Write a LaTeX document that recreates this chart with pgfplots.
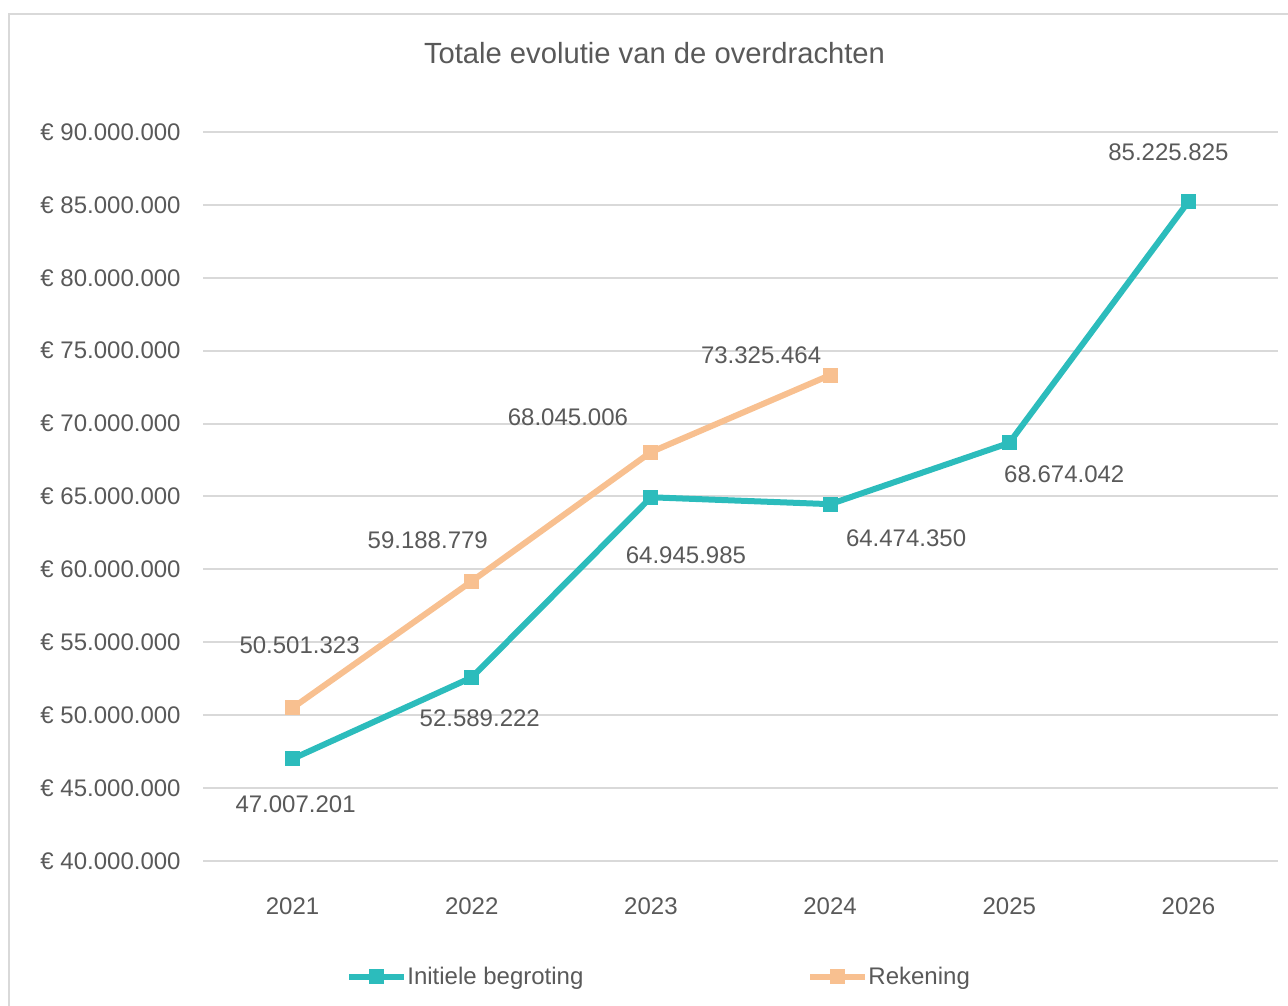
\documentclass[border=0pt]{standalone}
\usepackage{fontspec}
\setmainfont{Liberation Sans}
\usepackage{pgfplots}
\usepackage{pgfplotstable}
\pgfplotsset{compat=1.18}
\definecolor{tealc}{HTML}{2CBCBC}
\definecolor{peach}{HTML}{F8C090}
\definecolor{txt}{HTML}{595959}
\definecolor{gridc}{HTML}{D9D9D9}
\tikzset{lbl/.style={anchor=center, inner sep=0pt, text=txt, font=\fontsize{12}{14}\selectfont}}

\pgfplotstableread{
x y
0 47007201
1 52589222
2 64945985
3 64474350
4 68674042
5 85225825
}\initiele

\pgfplotstableread{
x y
0 50501323
1 59188779
2 68045006
3 73325464
}\rekening

\begin{document}
\begin{tikzpicture}
\useasboundingbox (0,0) rectangle (644pt,502.5pt);
\draw[gridc, line width=1pt] (4.5pt,-5pt) -- (4.5pt,495.5pt) -- (660pt,495.5pt);
\node[text=txt, font=\fontsize{14.6}{17}\selectfont] at (327.25pt,476pt) {Totale evolutie van de overdrachten};
\begin{axis}[
  scale only axis,
  width=537.5pt, height=364.5pt,
  anchor=south west, at={(101.5pt,72pt)},
  xmin=-0.5, xmax=5.5,
  ymin=40000000, ymax=90000000,
  scaled y ticks=false,
  xtick={0,1,2,3,4,5},
  xticklabels={2021,2022,2023,2024,2025,2026},
  ytick={40000000,45000000,50000000,55000000,60000000,65000000,70000000,75000000,80000000,85000000,90000000},
  yticklabels={€ 40.000.000,€ 45.000.000,€ 50.000.000,€ 55.000.000,€ 60.000.000,€ 65.000.000,€ 70.000.000,€ 75.000.000,€ 80.000.000,€ 85.000.000,€ 90.000.000},
  ymajorgrids,
  grid style={gridc, line width=1pt},
  axis line style={draw=none},
  major tick length=0pt,
  tick label style={text=txt, font=\fontsize{12}{14}\selectfont},
  yticklabel style={inner sep=0pt, xshift=-11pt},
  xticklabel style={inner sep=0pt, yshift=-18pt},
  clip=false,
  legend columns=2,
  legend style={draw=none, fill=none, at={(0.1274,-0.159)}, anchor=west,
    font=\fontsize{12}{14}\selectfont, text=txt,
    nodes={inner sep=0pt},
    /tikz/every even column/.append style={column sep=112pt}},
  legend image code/.code={\draw[#1, mark repeat=2, mark phase=2] plot coordinates {(0pt,0pt) (13.75pt,0pt) (27.5pt,0pt)};},
]
\addplot[tealc, line width=3pt, mark=square*, mark size=3.5pt, mark options={line width=0pt, fill=tealc}] table[x=x, y=y] \initiele;
\addlegendentry{Initiele begroting}
\addplot[peach, line width=3pt, mark=square*, mark size=3.5pt, mark options={line width=0pt, fill=peach}] table[x=x, y=y] \rekening;
\addlegendentry{Rekening}
\node[lbl, xshift=1.5pt, yshift=-22.5pt] at (axis cs:0,47007201) {47.007.201};
\node[lbl, xshift=4pt, yshift=-20.25pt] at (axis cs:1,52589222) {52.589.222};
\node[lbl, xshift=17.5pt, yshift=-29pt] at (axis cs:2,64945985) {64.945.985};
\node[lbl, xshift=38pt, yshift=-17pt] at (axis cs:3,64474350) {64.474.350};
\node[lbl, xshift=27.5pt, yshift=-15.5pt] at (axis cs:4,68674042) {68.674.042};
\node[lbl, xshift=-10pt, yshift=24.5pt] at (axis cs:5,85225825) {85.225.825};
\node[lbl, xshift=3.5pt, yshift=31.5pt] at (axis cs:0,50501323) {50.501.323};
\node[lbl, xshift=-22pt, yshift=20.5pt] at (axis cs:1,59188779) {59.188.779};
\node[lbl, xshift=-41.5pt, yshift=17.5pt] at (axis cs:2,68045006) {68.045.006};
\node[lbl, xshift=-34.5pt, yshift=10pt] at (axis cs:3,73325464) {73.325.464};
\end{axis}
\end{tikzpicture}
\end{document}
